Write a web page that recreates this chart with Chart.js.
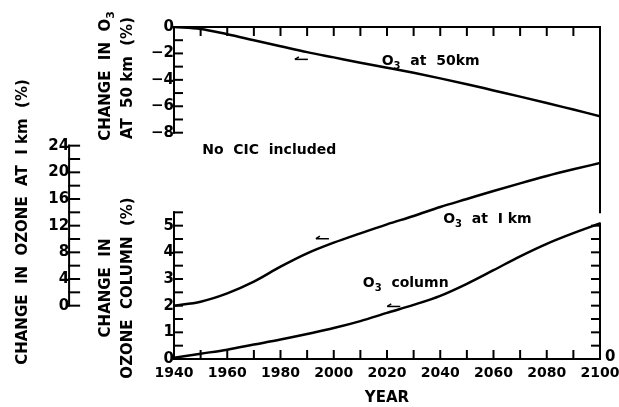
<!DOCTYPE html>
<html>
<head>
<meta charset="utf-8">
<script src="https://cdn.jsdelivr.net/npm/chart.js@4.4.1/dist/chart.umd.min.js"></script>
<style>
  html, body { margin: 0; padding: 0; background: #fff; }
  canvas { display: block; }
</style>
</head>
<body>
<canvas id="chart" width="619" height="407"></canvas>
<script>
// ---- data -------------------------------------------------------------
const years = [1940, 1950, 1960, 1970, 1980, 1990, 2000, 2010, 2020,
               2030, 2040, 2050, 2060, 2070, 2080, 2090, 2100];

// change in O3 at 50 km (%)
const o3At50km = [0, -0.15, -0.55, -1.0, -1.45, -1.9, -2.3, -2.7, -3.08,
                  -3.47, -3.89, -4.33, -4.8, -5.27, -5.75, -6.25, -6.75];

// change in ozone at 1 km (%)
const o3At1km = [0, 0.6, 1.85, 3.6, 5.85, 7.85, 9.45, 10.85, 12.2,
                 13.45, 14.8, 16.0, 17.2, 18.35, 19.45, 20.45, 21.4];

// change in ozone column (%)
const o3Column = [0.05, 0.2, 0.35, 0.54, 0.73, 0.94, 1.16, 1.42, 1.73,
                  2.03, 2.37, 2.82, 3.33, 3.85, 4.32, 4.72, 5.08];

// tick labels
const yearTicks = [1940, 1960, 1980, 2000, 2020, 2040, 2060, 2080, 2100];
const ticks50km = [0, -2, -4, -6, -8];
const ticks1km = [0, 4, 8, 12, 16, 20, 24];
const ticksColumn = [0, 1, 2, 3, 4, 5];

// ---- styling / layout ---------------------------------------------------
const FAMILY = '"DejaVu Sans", "Liberation Sans", sans-serif';
const tickFont = { family: FAMILY, size: 15, weight: 'bold' };
const yearFont = { family: FAMILY, size: 14, weight: 'bold' };
const INK = '#000';
const TICK = 8;

// curve labels, placed in data coordinates of the axis each curve uses
const curveLabels = [
  { parts: [['O'], ['3', true], ['  at  50km']], year: 2018.0, axis: 'y50', value: -2.63 },
  { parts: [['O'], ['3', true], ['  at  I km']], year: 2041.1, axis: 'yCol', value: 5.22 },
  { parts: [['O'], ['3', true], ['  column']], year: 2010.9, axis: 'yCol', value: 2.82 }
];
// small arrows pointing to the axis each curve is read against
const pointerArrows = [
  { year: 1985.4, axis: 'y50', value: -2.45 },
  { year: 1993.3, axis: 'yCol', value: 4.51 },
  { year: 2020.1, axis: 'yCol', value: 1.97 }
];

const toPoints = (vals) => years.map((yr, i) => ({ x: yr, y: vals[i] }));
const fixedTicks = (list) => (scale) => { scale.ticks = list.map(v => ({ value: v })); };
const minusLabel = (v) => (v < 0 ? '\u2212' + Math.abs(v) : String(v));

function drawParts(ctx, parts, x, y, align, size) {
  const main = `bold ${size}px ${FAMILY}`;
  const small = `bold ${Math.round(size * 0.72)}px ${FAMILY}`;
  let total = 0;
  for (const [t, sub] of parts) { ctx.font = sub ? small : main; total += ctx.measureText(t).width; }
  let cx = align === 'center' ? x - total / 2 : x;
  ctx.textAlign = 'left';
  ctx.textBaseline = 'middle';
  for (const [t, sub] of parts) {
    ctx.font = sub ? small : main;
    ctx.fillText(t, cx, sub ? y + size * 0.32 : y);
    cx += ctx.measureText(t).width;
  }
}

const axisFrames = {
  id: 'axisFrames',
  afterDatasetsDraw(chart) {
    const { ctx } = chart;
    const x = chart.scales.x, y50 = chart.scales.y50, yc = chart.scales.yCol, y1 = chart.scales.y1km;
    const px = v => x.getPixelForValue(v);
    const seg = (a, b, c, d) => { ctx.beginPath(); ctx.moveTo(a, b); ctx.lineTo(c, d); ctx.stroke(); };
    ctx.save();
    ctx.strokeStyle = INK;
    ctx.fillStyle = INK;
    ctx.lineWidth = 2;
    ctx.lineCap = 'square';

    const L = px(1940), R = px(2100);
    // upper panel: top edge, 50 km axis, right edge
    const top = y50.getPixelForValue(0);
    seg(L, top, R, top);
    seg(L, top, L, y50.getPixelForValue(-8));
    seg(R, top, R, yc.getPixelForValue(5.5));
    for (let yr = 1950; yr < 2100; yr += 10) seg(px(yr), top, px(yr), top + TICK);
    for (let v = -1; v >= -8; v--) { const p = y50.getPixelForValue(v); seg(L, p, L + TICK, p); }

    // lower panel: column axes and bottom ticks
    const b0 = yc.getPixelForValue(0);
    seg(L, b0, L, yc.getPixelForValue(5.5));
    for (let v = 0.5; v <= 5.5; v += 0.5) { const p = yc.getPixelForValue(v); seg(L, p, L + TICK, p); }
    seg(R, b0, R, yc.getPixelForValue(o3Column[o3Column.length - 1]));
    for (let v = 0.5; v <= 5.0; v += 0.5) { const p = yc.getPixelForValue(v); seg(R, p, R - TICK, p); }
    for (let yr = 1950; yr < 2100; yr += 10) seg(px(yr), b0, px(yr), b0 - TICK);

    // 1 km axis
    const A = px(y1.options.position.x);
    seg(A, y1.getPixelForValue(0), A, y1.getPixelForValue(24));
    for (let v = 0; v <= 24; v += 2) { const p = y1.getPixelForValue(v); seg(A, p, A + TICK + 2, p); }

    // pointer arrows
    ctx.lineWidth = 1.5;
    ctx.lineCap = 'butt';
    for (const a of pointerArrows) {
      const hx = px(a.year), hy = chart.scales[a.axis].getPixelForValue(a.value);
      seg(hx, hy, hx + 13, hy);
      seg(hx, hy, hx + 4, hy - 2.5);
    }

    // curve labels
    for (const c of curveLabels) {
      drawParts(ctx, c.parts, px(c.year), chart.scales[c.axis].getPixelForValue(c.value), 'left', 14);
    }
    drawParts(ctx, [['No  CIC  included']], px(1950.6), y50.getPixelForValue(-9.36), 'left', 14);
    drawParts(ctx, [['0']], R + 5, b0 - 2, 'left', 15);

    // rotated axis titles
    const rotated = (lines) => {
      for (const ln of lines) {
        ctx.save();
        ctx.translate(ln.x, ln.y);
        ctx.rotate(-Math.PI / 2);
        drawParts(ctx, ln.parts, 0, 0, 'center', 15);
        ctx.restore();
      }
    };
    rotated([
      { x: 23, y: 222, parts: [['CHANGE  IN  OZONE  AT  I km  (%)']] },
      { x: 106, y: 76, parts: [['CHANGE  IN  O'], ['3', true]] },
      { x: 128, y: 78, parts: [['AT  50 km  (%)']] },
      { x: 106, y: 288, parts: [['CHANGE  IN']] },
      { x: 128, y: 288, parts: [['OZONE  COLUMN  (%)']] }
    ]);
    ctx.restore();
  }
};

const lineStyle = {
  borderColor: INK,
  borderWidth: 2.5,
  pointRadius: 0,
  fill: false,
  cubicInterpolationMode: 'monotone'
};

new Chart(document.getElementById('chart'), {
  type: 'line',
  data: {
    datasets: [
      { label: 'O3 at 50km', data: toPoints(o3At50km), yAxisID: 'y50', ...lineStyle },
      { label: 'O3 at 1km', data: toPoints(o3At1km), yAxisID: 'y1km', ...lineStyle },
      { label: 'O3 column', data: toPoints(o3Column), yAxisID: 'yCol', ...lineStyle }
    ]
  },
  options: {
    responsive: false,
    animation: false,
    devicePixelRatio: 1,
    layout: { padding: { left: 174, right: 19, top: 27, bottom: 0 } },
    plugins: { legend: { display: false }, tooltip: { enabled: false } },
    scales: {
      x: {
        type: 'linear', position: 'bottom', min: 1940, max: 2100,
        afterFit(s) { s.height = 48; s.paddingLeft = 0; s.paddingRight = 0; },
        afterBuildTicks: fixedTicks(yearTicks),
        grid: { display: false, drawTicks: false },
        border: { display: true, color: INK, width: 2 },
        ticks: { font: yearFont, color: INK, padding: 6, maxRotation: 0, autoSkip: false, callback: v => String(v) },
        title: { display: true, text: 'YEAR', font: tickFont, color: INK, padding: { top: 0, bottom: 0 } }
      },
      y50: {
        axis: 'y', type: 'linear', position: { x: 1940 }, min: -25.13, max: 0,
        afterBuildTicks: fixedTicks(ticks50km),
        grid: { display: false, drawTicks: false },
        border: { display: false },
        ticks: { font: tickFont, color: INK, padding: 5, autoSkip: false, callback: minusLabel }
      },
      yCol: {
        axis: 'y', type: 'linear', position: { x: 1940 }, min: 0, max: 12.45,
        afterBuildTicks: fixedTicks(ticksColumn),
        grid: { display: false, drawTicks: false },
        border: { display: false },
        ticks: { font: tickFont, color: INK, padding: 5, autoSkip: false, callback: v => String(v) }
      },
      y1km: {
        axis: 'y', type: 'linear', position: { x: 1900.6 }, min: -8, max: 41.8,
        afterBuildTicks: fixedTicks(ticks1km),
        grid: { display: false, drawTicks: false },
        border: { display: false },
        ticks: { font: tickFont, color: INK, padding: 6, autoSkip: false, callback: v => String(v) }
      }
    }
  },
  plugins: [axisFrames]
});
</script>
</body>
</html>
